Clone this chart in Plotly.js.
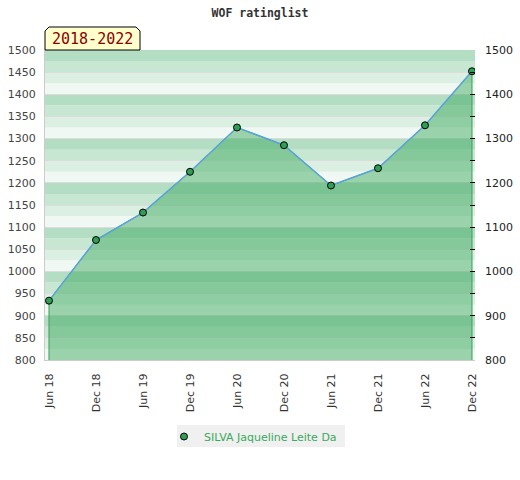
<!DOCTYPE html>
<html>
<head>
<meta charset="utf-8">
<script src="https://cdn.plot.ly/plotly-3.0.1.min.js"></script>
<style>html,body{margin:0;padding:0;background:#fff;}#chart{width:520px;height:480px;}</style>
</head>
<body>
<div id="chart"></div>
<script>
// ---- data ----
var periods = ["Jun 18","Dec 18","Jun 19","Dec 19","Jun 20","Dec 20","Jun 21","Dec 21","Jun 22","Dec 22"];
var ratings = [934, 1071, 1133, 1225, 1325, 1285, 1194, 1233, 1330, 1452];
var playerName = "SILVA Jaqueline Leite Da";
var chartTitle = "WOF ratinglist";
var periodLabel = "2018-2022";
var yMin = 800, yMax = 1500;

// ---- layout geometry (pixels) ----
var W = 520, H = 480, mL = 45, mR = 45, mT = 50, mB = 120;
var pw = W - mL - mR, ph = H - mT - mB;
function px(x){ return (x - mL) / pw; }
function py(y){ return (H - mB - y) / ph; }

// background bands (25-unit stripes, 4 shades per 100)
var bandColors = ["#b3dec4", "#c8e7d3", "#dcefe3", "#eff8f2"];
var shapes = [];
for (var L = yMin; L < yMax; L += 25) {
  var k = Math.round((L - yMin) / 25) % 4;
  shapes.push({type:"rect", xref:"paper", yref:"y", x0:0, x1:1, y0:L, y1:L+25,
    fillcolor: bandColors[3 - k], line:{width:0}, layer:"below"});
}
// period badge with cut corners
var bx0 = px(45), bx1 = px(140), bxa = px(49), bxb = px(136);
var by0 = py(50), by1 = py(27), bya = py(31);
shapes.push({type:"path", xref:"paper", yref:"paper",
  path:"M "+bx0+","+by0+" L "+bx0+","+bya+" L "+bxa+","+by1+" L "+bxb+","+by1+" L "+bx1+","+bya+" L "+bx1+","+by0+" Z",
  fillcolor:"#ffffcc", line:{color:"#000", width:1}, layer:"above"});
// legend background panel
shapes.push({type:"rect", xref:"paper", yref:"paper", x0:px(177), x1:px(345), y0:py(447), y1:py(425),
  fillcolor:"#f0f0f0", line:{width:0}, layer:"below"});

// fill polygon built from data
var fillX = [periods[0]].concat(periods).concat([periods[periods.length-1]]);
var fillY = [yMin].concat(ratings).concat([yMin]);

var traces = [
  {x:fillX, y:fillY, type:"scatter", mode:"lines", fill:"toself",
   fillcolor:"rgba(58,168,92,0.47)", line:{color:"#3a9e5a", width:1},
   showlegend:false, hoverinfo:"skip"},
  {x:periods, y:ratings, type:"scatter", mode:"lines",
   line:{color:"#5ba3d9", width:1.5}, showlegend:false},
  {x:periods, y:ratings, type:"scatter", mode:"markers", name:playerName,
   marker:{size:7, color:"#2f9e55", line:{color:"#000", width:1}}},
  {x:periods, y:ratings, yaxis:"y2", type:"scatter", mode:"markers",
   marker:{opacity:0}, showlegend:false, hoverinfo:"skip"}
];

var layout = {
  width:W, height:H,
  margin:{l:mL, r:mR, t:mT, b:mB},
  paper_bgcolor:"#fff", plot_bgcolor:"#fff",
  title:{text:chartTitle, x:0.5, xanchor:"center", y:1-13/H, yanchor:"middle",
    font:{family:"DejaVu Sans Mono", size:11.5, color:"#333", weight:"bold"}},
  xaxis:{type:"category", range:[-0.085, 9.064], tickangle:-90, ticks:"",
    showgrid:false, zeroline:false, showline:true, linecolor:"#cccccc", linewidth:1,
    ticklabelstandoff:8,
    tickfont:{family:"DejaVu Sans", size:11, color:"#333"}},
  yaxis:{range:[yMin, yMax], dtick:50, tick0:800, ticks:"", showgrid:true,
    gridcolor:"#dcdcdc", gridwidth:1, zeroline:false, showline:true,
    linecolor:"#cccccc", linewidth:1, ticklabelstandoff:6,
    tickfont:{family:"DejaVu Sans", size:11, color:"#444"}},
  yaxis2:{range:[yMin, yMax], overlaying:"y", side:"right", dtick:100, tick0:800,
    ticks:"inside", ticklen:5, tickcolor:"#000", tickwidth:1, showgrid:false,
    zeroline:false, showline:false, ticklabelstandoff:9,
    minor:{dtick:50, tick0:800, ticks:"inside", ticklen:5, tickcolor:"#000", tickwidth:1, showgrid:false},
    tickfont:{family:"DejaVu Sans", size:11, color:"#222"}},
  shapes:shapes,
  annotations:[{text:periodLabel, xref:"paper", yref:"paper", x:px(92.5), y:py(38.5),
    xanchor:"center", yanchor:"middle", showarrow:false,
    font:{family:"DejaVu Sans Mono", size:15, color:"#8b0000"}}],
  showlegend:true,
  legend:{orientation:"h", x:px(164), xanchor:"left", y:py(422), yanchor:"top",
    bgcolor:"rgba(0,0,0,0)", font:{family:"DejaVu Sans", size:11, color:"#3aaa5c"},
    itemwidth:30}
};

Plotly.newPlot("chart", traces, layout, {displayModeBar:false, staticPlot:true});
</script>
</body>
</html>
